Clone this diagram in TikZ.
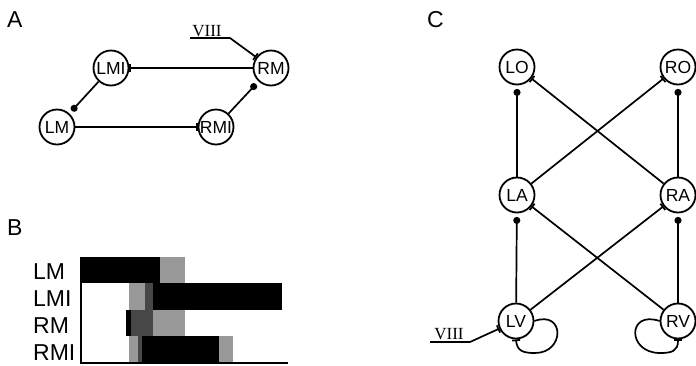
\documentclass[tikz,border=0pt]{standalone}
\usepackage{fontspec}
\setmainfont{Liberation Sans}
\newfontfamily\romanfont{Liberation Serif}
\usetikzlibrary{arrows.meta}

\begin{document}
\begin{tikzpicture}[x=1pt,y=-1pt,
  cell/.style={circle,draw,line width=1.8pt,minimum size=35pt,inner sep=0pt,
    font=\fontsize{17.5}{17.5}\selectfont},
  link/.style={line width=1.7pt},
  excite/.style={link,-{Circle[length=7pt]},shorten >=3.5pt},
  inhibit/.style={link,-{Bar[width=8pt,line width=1.7pt]}},
  panel/.style={anchor=base west,inner sep=0pt,font=\fontsize{23}{23}\selectfont},
  rowlabel/.style={anchor=base west,inner sep=0pt,font=\fontsize{23}{23}\selectfont},
  nerve/.style={inner sep=0pt,font=\romanfont\fontsize{17}{17}\selectfont},
  stipple/.style={fill=black!40},
  darkstipple/.style={fill=black!72},
]
\useasboundingbox (0,0) rectangle (696,365);

% ---------- A: mauthner circuit ----------
\node[panel] (labA) at (7,27) {A};
\node[cell] (LMI) at (111,68) {LMI};
\node[cell] (RM)  at (271,68) {RM};
\node[cell] (LM)  at (57,127) {LM};
\node[cell] (RMI) at (216,127) {RMI};
\draw[inhibit] (RM) -- (LMI);
\draw[inhibit] (LM) -- (RMI);
\draw[excite] (LMI) -- (LM);
\draw[excite] (RMI) -- (RM);
\node[nerve] (viiiA) at (207,31) {VIII};
\coordinate (viiiAstart) at (190,38);
\coordinate (viiiAknee) at (230,38);
\draw[inhibit] (viiiAstart) -- (viiiAknee) -- (RM);

% ---------- B: activity bars ----------
\node[panel] (labB) at (7,235) {B};
\node[rowlabel] (rowLM)  at (33,279) {LM};
\node[rowlabel] (rowLMI) at (33,306) {LMI};
\node[rowlabel] (rowRM)  at (33,333) {RM};
\node[rowlabel] (rowRMI) at (33,360) {RMI};
% LM
\fill (81,257) rectangle (160,283);
\fill[stipple] (160,257) rectangle (185,283);
% LMI
\fill[stipple] (129,283) rectangle (145,310);
\fill[darkstipple] (145,283) rectangle (153,310);
\fill (153,283) rectangle (282,310);
% RM
\fill (126,310) rectangle (131,336);
\fill[darkstipple] (131,310) rectangle (153,336);
\fill[stipple] (153,310) rectangle (185,336);
% RMI
\fill[stipple] (129,336) rectangle (138,362);
\fill[darkstipple] (138,336) rectangle (142,362);
\fill (142,336) rectangle (219,362);
\fill[stipple] (219,336) rectangle (233,362);
% axes
\draw[line width=1.6pt] (81,257) -- (81,363) -- (288,363);

% ---------- C: oculomotor / vestibular circuit ----------
\node[panel] (labC) at (427,27) {C};
\node[cell] (LO) at (517,67)  {LO};
\node[cell] (RO) at (678,67)  {RO};
\node[cell] (LA) at (517,195) {LA};
\node[cell] (RA) at (678,195) {RA};
\node[cell] (LV) at (516,321) {LV};
\node[cell] (RV) at (678,321) {RV};
\draw[excite] (LA) -- (LO);
\draw[excite] (RA) -- (RO);
\draw[inhibit] (LA) -- (RO);
\draw[inhibit] (RA) -- (LO);
\draw[excite] (LV) -- (LA);
\draw[excite] (RV) -- (RA);
\draw[inhibit] (LV) -- (RA);
\draw[inhibit] (RV) -- (LA);
% recurrent loops
\draw[inhibit] (LV.east) .. controls (565,310) and (565,353) .. (535,353)
  .. controls (523,353) and (517,351) .. (LV.south);
\draw[inhibit] (RV.west) .. controls (627,310) and (627,353) .. (660,353)
  .. controls (672,353) and (678,351) .. (RV.south);
% vestibular input
\node[nerve] (viiiC) at (449,334) {VIII};
\coordinate (viiiCstart) at (430,342);
\coordinate (viiiCknee) at (470,342);
\draw[inhibit] (viiiCstart) -- (viiiCknee) -- (LV);
\end{tikzpicture}
\end{document}
